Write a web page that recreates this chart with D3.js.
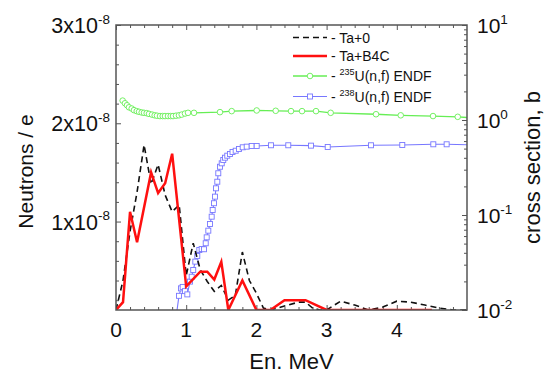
<!DOCTYPE html>
<html><head><meta charset="utf-8">
<script src="https://cdn.jsdelivr.net/npm/d3@7"></script>
<style>body{margin:0;background:#fff} svg{display:block} text{font-family:"Liberation Sans",Arial,sans-serif}</style>
</head><body><svg id="c" width="552" height="376"></svg>
<script>
// ---- data ----
const energyTa0 = [0,0.1,0.2,0.3,0.4,0.5,0.6,0.7,0.8,0.9,1.0,1.1,1.2,1.3,1.4,1.5,1.6,1.7,1.8,1.9,2.0,2.1,2.2,2.4,2.6,2.7,2.8,2.9,3.0,3.2,3.4,3.6,3.8,4.0,4.2,4.4,4.6,4.8,5.0];
const fluxTa0 = [0.1e-8,0.40e-8,0.90e-8,1.30e-8,1.78e-8,1.38e-8,1.58e-8,1.27e-8,1.10e-8,1.17e-8,0.45e-8,0.78e-8,0.51e-8,0.39e-8,0.29e-8,0.35e-8,0.20e-8,0.25e-8,0.69e-8,0.40e-8,0.27e-8,0.12e-8,0.10e-8,0.14e-8,0.18e-8,0.18e-8,0.12e-8,0.10e-8,0.10e-8,0.19e-8,0.15e-8,0.10e-8,0.13e-8,0.19e-8,0.18e-8,0.15e-8,0.12e-8,0.10e-8,0.10e-8];
const energyB4C = [0,0.1,0.2,0.3,0.5,0.6,0.7,0.8,1.0,1.2,1.3,1.4,1.5,1.6,1.8,2.0,2.2,2.4,2.7,3.0,4.5];
const fluxB4C = [0.1e-8,0.18e-8,1.10e-8,0.79e-8,1.50e-8,1.29e-8,1.39e-8,1.69e-8,0.34e-8,0.49e-8,0.49e-8,0.41e-8,0.59e-8,0.1e-8,0.40e-8,0.1e-8,0.1e-8,0.2e-8,0.2e-8,0.1e-8,0.1e-8];
const energyU235 = [0.095,0.128,0.157,0.185,0.224,0.256,0.295,0.328,0.366,0.399,0.437,0.470,0.513,0.551,0.584,0.627,0.665,0.698,0.741,0.779,0.812,0.855,0.897,0.936,0.983,1.026,1.111,1.481,1.648,2.004,2.275,2.493,2.650,2.849,3.058,3.704,4.056,4.516,4.868,5.1];
const xsU235 = [1.60,1.50,1.43,1.36,1.32,1.27,1.24,1.22,1.20,1.19,1.18,1.16,1.14,1.12,1.11,1.10,1.10,1.10,1.10,1.10,1.10,1.11,1.12,1.14,1.17,1.19,1.19,1.21,1.24,1.26,1.25,1.24,1.24,1.24,1.19,1.15,1.12,1.10,1.08,1.05];
const energyU238 = [0.85,0.897,0.926,0.95,0.983,1.016,1.054,1.078,1.10,1.13,1.158,1.187,1.22,1.254,1.278,1.292,1.315,1.339,1.363,1.377,1.396,1.41,1.425,1.443,1.457,1.481,1.506,1.528,1.553,1.585,1.624,1.66,1.705,1.752,1.805,1.862,1.933,2.004,2.208,2.454,2.778,3.016,3.632,4.078,4.52,4.71,5.1];
const xsU238 = [0.0078,0.0141,0.0169,0.0175,0.0158,0.0146,0.0199,0.0224,0.0264,0.0323,0.0371,0.0428,0.0438,0.0436,0.0504,0.0582,0.0684,0.0804,0.096,0.113,0.133,0.156,0.191,0.224,0.275,0.322,0.350,0.379,0.401,0.421,0.439,0.461,0.475,0.495,0.516,0.524,0.532,0.532,0.542,0.542,0.537,0.520,0.542,0.546,0.555,0.555,0.546];
const xTicks = [0,1,2,3,4];
const xTickLabels = ["0","1","2","3","4"];
const leftTicks = [1e-8,2e-8,3e-8];
const leftTickLabels = [["1x10","-8"],["2x10","-8"],["3x10","-8"]];
const rightTicks = [0.01,0.1,1,10];
const rightTickLabels = [["10","-2"],["10","-1"],["10","0"],["10","1"]];
const legendItems = [
  {pre:"- Ta+0", sup:"", post:"", color:"#111", dash:"6,4", marker:null, w:1.6},
  {pre:"- Ta+B4C", sup:"", post:"", color:"#ff1010", dash:null, marker:null, w:2.5},
  {pre:"- ", sup:"235", post:"U(n,f) ENDF", color:"#66ee55", dash:null, marker:"circle", w:1.3},
  {pre:"- ", sup:"238", post:"U(n,f) ENDF", color:"#7777ff", dash:null, marker:"square", w:1.1}
];

// ---- layout ----
const svg = d3.select("#c");
const L=116, R=467, T=25, B=310;
const x = d3.scaleLinear().domain([0,5]).range([L,R]);
const yL = d3.scaleLinear().domain([1e-9,3e-8]).range([B,T]);
const yR = d3.scaleLog().domain([0.01,10]).range([B,T]);
const axisCol = "#555";

svg.append("rect").attr("width",552).attr("height",376).attr("fill","#fff");
svg.append("clipPath").attr("id","clip").append("rect").attr("x",L).attr("y",T-1).attr("width",R-L).attr("height",B-T+1);

// ticks
const xMinor = d3.range(0,5.001,0.2).filter(v=>Math.abs(v-Math.round(v))>1e-6);
function styleAxis(g){ g.select(".domain").remove(); g.selectAll("line").attr("stroke",axisCol).attr("stroke-width",1); }
svg.append("g").attr("transform",`translate(0,${B})`).call(d3.axisTop(x).tickValues(xTicks).tickSize(5).tickFormat("")).call(styleAxis);
svg.append("g").attr("transform",`translate(0,${B})`).call(d3.axisTop(x).tickValues(xMinor).tickSize(3).tickFormat("")).call(styleAxis);
svg.append("g").attr("transform",`translate(0,${T})`).call(d3.axisBottom(x).tickValues(xTicks).tickSize(5).tickFormat("")).call(styleAxis);
svg.append("g").attr("transform",`translate(0,${T})`).call(d3.axisBottom(x).tickValues(xMinor).tickSize(3).tickFormat("")).call(styleAxis);
const yMinor = d3.range(2e-9,3e-8,2e-9).filter(v=>Math.abs(v/1e-8-Math.round(v/1e-8))>1e-6);
svg.append("g").attr("transform",`translate(${L},0)`).call(d3.axisRight(yL).tickValues(leftTicks).tickSize(5).tickFormat("")).call(styleAxis);
svg.append("g").attr("transform",`translate(${L},0)`).call(d3.axisRight(yL).tickValues(yMinor).tickSize(3).tickFormat("")).call(styleAxis);
const logMinor = [];
[0.01,0.1,1].forEach(d=>{ for(let k=2;k<=9;k++) logMinor.push(d*k); });
svg.append("g").attr("transform",`translate(${R},0)`).call(d3.axisLeft(yR).tickValues(rightTicks).tickSize(5).tickFormat("")).call(styleAxis);
svg.append("g").attr("transform",`translate(${R},0)`).call(d3.axisLeft(yR).tickValues(logMinor).tickSize(3).tickFormat("")).call(styleAxis);

// series
const plot = svg.append("g").attr("clip-path","url(#clip)");
function series(xs, ys, yscale){ return xs.map((e,i)=>[x(e), yscale(ys[i])]); }
const line = d3.line();
const g235 = series(energyU235, xsU235, yR);
const g238 = series(energyU238, xsU238, yR);
plot.append("path").attr("d",line(g235)).attr("fill","none").attr("stroke","#66ee55").attr("stroke-width",1.3);
plot.selectAll("circle.u235").data(g235).join("circle").attr("class","u235")
  .attr("cx",d=>d[0]).attr("cy",d=>d[1]).attr("r",2.8).attr("fill","#fff").attr("stroke","#66ee55").attr("stroke-width",0.9);
plot.append("path").attr("d",line(g238)).attr("fill","none").attr("stroke","#7777ff").attr("stroke-width",1.1);
plot.selectAll("rect.u238").data(g238).join("rect").attr("class","u238")
  .attr("x",d=>d[0]-2.5).attr("y",d=>d[1]-2.5).attr("width",5).attr("height",5).attr("fill","#fff").attr("stroke","#7777ff").attr("stroke-width",0.9);
plot.append("path").attr("d",line(series(energyTa0, fluxTa0, yL))).attr("fill","none").attr("stroke","#111").attr("stroke-width",1.6).attr("stroke-dasharray","6,4");
plot.append("path").attr("d",line(series(energyB4C, fluxB4C, yL))).attr("fill","none").attr("stroke","#ff1010").attr("stroke-width",2.5).attr("stroke-linejoin","miter");

// frame
svg.append("rect").attr("x",L).attr("y",T).attr("width",R-L).attr("height",B-T).attr("fill","none").attr("stroke",axisCol).attr("stroke-width",1.5);

// tick labels
xTicks.forEach((v,i)=>{
  svg.append("text").attr("x",x(v)).attr("y",337).attr("text-anchor","middle").attr("font-size",21).attr("fill","#111").text(xTickLabels[i]);
});
leftTicks.forEach((v,i)=>{
  const t = svg.append("text").attr("x",110).attr("y",yL(v)+8).attr("text-anchor","end").attr("font-size",21.5).attr("fill","#111");
  t.append("tspan").text(leftTickLabels[i][0]);
  t.append("tspan").attr("font-size",13.5).attr("dy",-9.5).text(leftTickLabels[i][1]);
});
rightTicks.forEach((v,i)=>{
  const t = svg.append("text").attr("x",477).attr("y",yR(v)+8).attr("text-anchor","start").attr("font-size",21).attr("fill","#111");
  t.append("tspan").text(rightTickLabels[i][0]);
  t.append("tspan").attr("font-size",13.5).attr("dy",-9.5).text(rightTickLabels[i][1]);
});

// axis titles
svg.append("text").attr("x",(L+R)/2).attr("y",369).attr("text-anchor","middle").attr("font-size",22).attr("fill","#111").text("En. MeV");
svg.append("text").attr("transform",`translate(33,${(T+B)/2+4}) rotate(-90)`).attr("text-anchor","middle").attr("font-size",21).attr("fill","#111").text("Neutrons / e");
svg.append("text").attr("transform",`translate(540,${(T+B)/2}) rotate(-90)`).attr("text-anchor","middle").attr("font-size",22).attr("fill","#111").text("cross section, b");

// legend
const legY = [37.5, 56, 76, 96.5];
legendItems.forEach((it,i)=>{
  const yy = legY[i];
  const ln = svg.append("line").attr("x1",293).attr("x2",327).attr("y1",yy).attr("y2",yy).attr("stroke",it.color).attr("stroke-width",it.w);
  if(it.dash) ln.attr("stroke-dasharray",it.dash);
  if(it.marker==="circle") svg.append("circle").attr("cx",310).attr("cy",yy).attr("r",2.8).attr("fill","#fff").attr("stroke",it.color).attr("stroke-width",0.9);
  if(it.marker==="square") svg.append("rect").attr("x",307.5).attr("y",yy-2.5).attr("width",5).attr("height",5).attr("fill","#fff").attr("stroke",it.color).attr("stroke-width",0.9);
  const t = svg.append("text").attr("x",331).attr("y",yy+5).attr("font-size",14).attr("fill","#111");
  t.append("tspan").text(it.pre);
  if(it.sup){ t.append("tspan").attr("font-size",9).attr("dy",-6).text(it.sup); t.append("tspan").attr("dy",6).text(it.post); }
});
</script></body></html>
